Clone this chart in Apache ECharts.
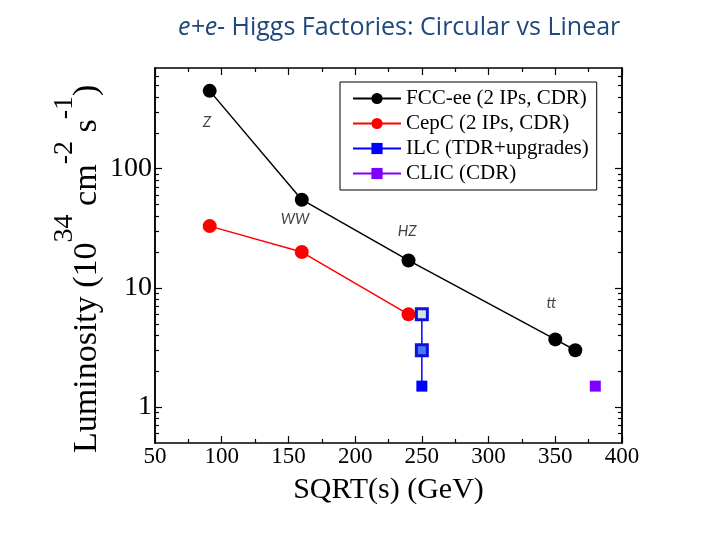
<!DOCTYPE html>
<html>
<head>
<meta charset="utf-8">
<script src="https://cdn.jsdelivr.net/npm/echarts@6/dist/echarts.min.js"></script>
<style>html,body{margin:0;padding:0;background:#fff;}#c{width:720px;height:540px;}</style>
</head>
<body>
<div id="c"></div>
<script>
// ---- data ----
const fccX = [91, 160, 240, 350, 365];
const fccY = [450, 55, 17, 3.7, 3.0];
const cepcX = [91, 160, 240];
const cepcY = [33, 20, 6];
const ilcX = [250, 250, 250];
const ilcY = [6, 3, 1.5];
const clicX = [380];
const clicY = [1.5];
const noteNames = ['Z', 'WW', 'HZ', 'tt'];
const noteX = [89, 155, 239, 347];
const noteY = [244, 38, 30, 7.5];
const seriesNames = ['FCC-ee (2 IPs, CDR)', 'CepC (2 IPs, CDR)', 'ILC (TDR+upgrades)', 'CLIC (CDR)'];
const yMajorTicks = [1, 10, 100];
const yMinorTicks = [0.6, 0.7, 0.8, 0.9, 2, 3, 4, 5, 6, 7, 8, 9, 20, 30, 40, 50, 60, 70, 80, 90, 200, 300, 400, 500, 600];
// y-axis title pieces: [text, isSuperscript]
const yTitleParts = [['Luminosity (10', false], ['34', true], [' cm', false], ['-2', true], [' s', false], ['-1', true], [')', false]];

const zip = (xs, ys) => xs.map((x, i) => [x, ys[i]]);
const serif = 'Liberation Serif';

const frame = { show: true, lineStyle: { color: '#000', width: 1.5 } };

function xAx(pos, labels) {
  return {
    type: 'value', position: pos, min: 50, max: 400, interval: 50,
    axisLine: frame,
    axisTick: { show: true, inside: true, length: 7, lineStyle: { color: '#000', width: 1.2 } },
    minorTick: { show: true, splitNumber: 2, length: 4, lineStyle: { color: '#000', width: 1.2 } },
    axisLabel: { show: labels, color: '#000', fontFamily: serif, fontSize: 23, margin: 2 },
    splitLine: { show: false }, minorSplitLine: { show: false }
  };
}
function yAx(pos, vals, len, labels) {
  return {
    type: 'log', logBase: 10, position: pos, min: 0.5, max: 700,
    axisLine: frame,
    axisTick: { show: true, inside: true, length: len, customValues: vals, lineStyle: { color: '#000', width: 1.2 } },
    axisLabel: { show: labels, customValues: yMajorTicks, color: '#000', fontFamily: serif, fontSize: 28, margin: 3 },
    splitLine: { show: false }
  };
}

const xBottom = xAx('bottom', true);
xBottom.name = 'SQRT(s) (GeV)';
xBottom.nameLocation = 'middle';
xBottom.nameGap = 32;
xBottom.nameTextStyle = { fontFamily: serif, fontSize: 30, color: '#000' };

// y-axis title built from pieces along a rotated baseline
const mainSize = 34, supSize = 28, supRaise = 25;
const ctx = document.createElement('canvas').getContext('2d');
let cursor = 0;
const yTitleChildren = yTitleParts.map(([t, sup]) => {
  const fs = sup ? supSize : mainSize;
  ctx.font = fs + 'px "' + serif + '"';
  const w = ctx.measureText(t).width;
  const el = {
    type: 'text', x: cursor, y: sup ? -supRaise : 0,
    style: { text: t, font: fs + 'px "' + serif + '"', fill: '#000', textAlign: 'left', textVerticalAlign: 'bottom', verticalAlign: 'bottom' }
  };
  cursor += w;
  return el;
});

const option = {
  backgroundColor: '#fff',
  animation: false,
  title: {
    text: '{i|e+e-}{n| Higgs Factories: Circular vs Linear}',
    left: 173, top: 10,
    textStyle: {
      fontWeight: 'normal',
      rich: {
        i: { fontFamily: 'Open Sans', fontStyle: 'italic', fontWeight: 'normal', fontSize: 25, color: '#1F497D' },
        n: { fontFamily: 'Open Sans', fontWeight: 'normal', fontSize: 25, color: '#1F497D' }
      }
    }
  },
  grid: { left: 155, right: 98, top: 68, bottom: 97, containLabel: false },
  xAxis: [xBottom, xAx('top', false)],
  yAxis: [yAx('left', yMajorTicks, 7, true), yAx('left', yMinorTicks, 4, false), yAx('right', yMajorTicks, 7, false), yAx('right', yMinorTicks, 4, false)],
  graphic: [{
    type: 'group', x: 104, y: 453, rotation: Math.PI / 2,
    children: yTitleChildren
  }],
  legend: {
    data: seriesNames,
    orient: 'vertical', left: 340, top: 82,
    borderColor: '#000', borderWidth: 1,
    padding: [6, 8, 6, 12], itemGap: 4,
    itemWidth: 48, itemHeight: 14,
    textStyle: { fontFamily: serif, fontSize: 21, color: '#000' }
  },
  series: [
    { name: seriesNames[0], type: 'line', data: zip(fccX, fccY), symbol: 'circle', symbolSize: 14,
      lineStyle: { color: '#000', width: 1.5 }, itemStyle: { color: '#000' } },
    { name: seriesNames[1], type: 'line', data: zip(cepcX, cepcY), symbol: 'circle', symbolSize: 14,
      lineStyle: { color: '#ff0000', width: 1.5 }, itemStyle: { color: '#ff0000' } },
    { name: seriesNames[2], type: 'line', symbol: 'rect', symbolSize: 11,
      lineStyle: { color: '#0000ff', width: 1.5 }, itemStyle: { color: '#0000ff' },
      data: zip(ilcX, ilcY).map((p, i) => ({
        value: p,
        itemStyle: i === 0 ? { color: '#cfe6d8', borderColor: '#1010e0', borderWidth: 3 }
                 : i === 1 ? { color: '#4a7ae8', borderColor: '#1010e0', borderWidth: 3 }
                 : { color: '#0000ff' }
      })) },
    { name: seriesNames[3], type: 'line', data: zip(clicX, clicY), symbol: 'rect', symbolSize: 11,
      lineStyle: { color: '#8000ff', width: 1.5 }, itemStyle: { color: '#8000ff' } },
    { name: 'notes', type: 'scatter', symbolSize: 0, silent: true,
      data: noteNames.map((n, i) => ({ name: n, value: [noteX[i], noteY[i]] })),
      label: { show: true, position: 'inside', formatter: p => p.name,
        fontFamily: 'Lato', fontStyle: 'italic', fontSize: 15, color: '#111' } }
  ]
};
echarts.init(document.getElementById('c')).setOption(option);
</script>
</body>
</html>
